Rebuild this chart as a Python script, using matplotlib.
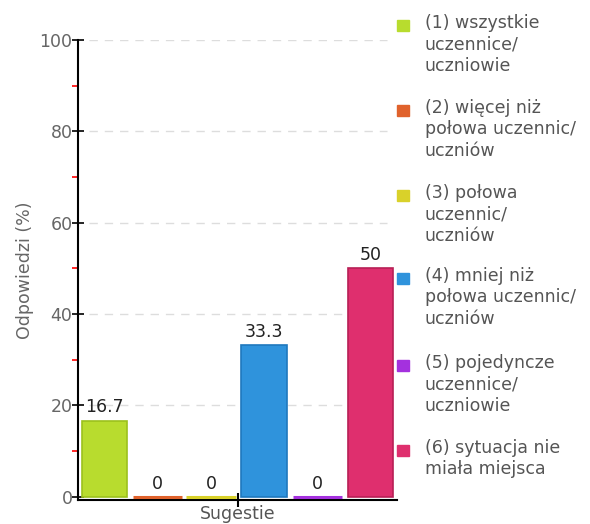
import matplotlib.pyplot as plt
from matplotlib.patches import Rectangle
import numpy as np

# dane
labels = ["(1) wszystkie\nuczennice/\nuczniowie",
          "(2) więcej niż\npołowa uczennic/\nuczniów",
          "(3) połowa\nuczennic/\nuczniów",
          "(4) mniej niż\npołowa uczennic/\nuczniów",
          "(5) pojedyncze\nuczennice/\nuczniowie",
          "(6) sytuacja nie\nmiała miejsca"]
values = np.array([16.7, 0, 0, 33.3, 0, 50])
value_text = ["16.7", "0", "0", "33.3", "0", "50"]
colors = ["#b8dc2e", "#e0622c", "#d9d12a", "#2f93dc", "#a431de", "#df2f6e"]
edges = ["#9cc11c", "#c84e1c", "#bdb418", "#1f78bd", "#8a1fc2", "#b81f55"]

fig = plt.figure(figsize=(5.9, 5.24), dpi=100)
ax = fig.add_axes([78 / 590, 1 - 500 / 524, 319 / 590, 460 / 524])

x = np.arange(len(values))
w = 0.85
ax.bar(x, values, width=w, color=colors, edgecolor=edges, linewidth=1.2, zorder=3)
# slupki zerowe jako cienka kreska
zero = values == 0
ax.hlines(values[zero], x[zero] - w / 2 - 0.04, x[zero] + w / 2 + 0.04,
          colors=[c for c, z in zip(colors, zero) if z], linewidth=2.2, zorder=3)
for xi, v, t in zip(x, values, value_text):
    ax.text(xi, v + 0.9, t, ha="center", va="bottom", fontsize=12.5,
            color="#222222", zorder=4)

ax.set_xlim(-0.5, 5.5)
ax.set_ylim(-0.7, 100)
ax.set_yticks([0, 20, 40, 60, 80, 100])
ax.set_yticks([10, 30, 50, 70, 90], minor=True)
ax.set_xticks([2.5])
ax.set_xticklabels([""])
ax.tick_params(axis="y", which="major", direction="inout", length=8, width=1.2,
               labelsize=12.5, labelcolor="#666666", pad=0)
ax.tick_params(axis="y", which="minor", direction="out", length=4, width=1.2,
               color="red")
ax.tick_params(axis="x", direction="inout", length=10, width=1.5)

for g in [20, 40, 60, 80, 100]:
    ax.axhline(g, xmin=0.035, xmax=0.97, color="#dddddd",
               linestyle=(0, (6, 5)), linewidth=1, zorder=1)

for s in ["top", "right"]:
    ax.spines[s].set_visible(False)
ax.spines["left"].set_linewidth(1.5)
ax.spines["bottom"].set_linewidth(1.5)

ax.set_ylabel("Odpowiedzi (%)", fontsize=12.5, color="#666666", labelpad=4)
ax.set_xlabel("Sugestie", fontsize=12.5, color="#555555", labelpad=-5)

# legenda
centers = [25, 110, 195, 278, 365, 450]
for cy, lab, c in zip(centers, labels, colors):
    fig.patches.append(Rectangle((397 / 590, 1 - (cy + 6) / 524), 12 / 590, 11 / 524,
                                 transform=fig.transFigure, color=c, figure=fig))
    fig.text(425 / 590, 1 - (cy - 11) / 524, lab, fontsize=12.5, color="#555555",
             va="top", ha="left", linespacing=1.25)

fig.savefig("out.png", dpi=100)
